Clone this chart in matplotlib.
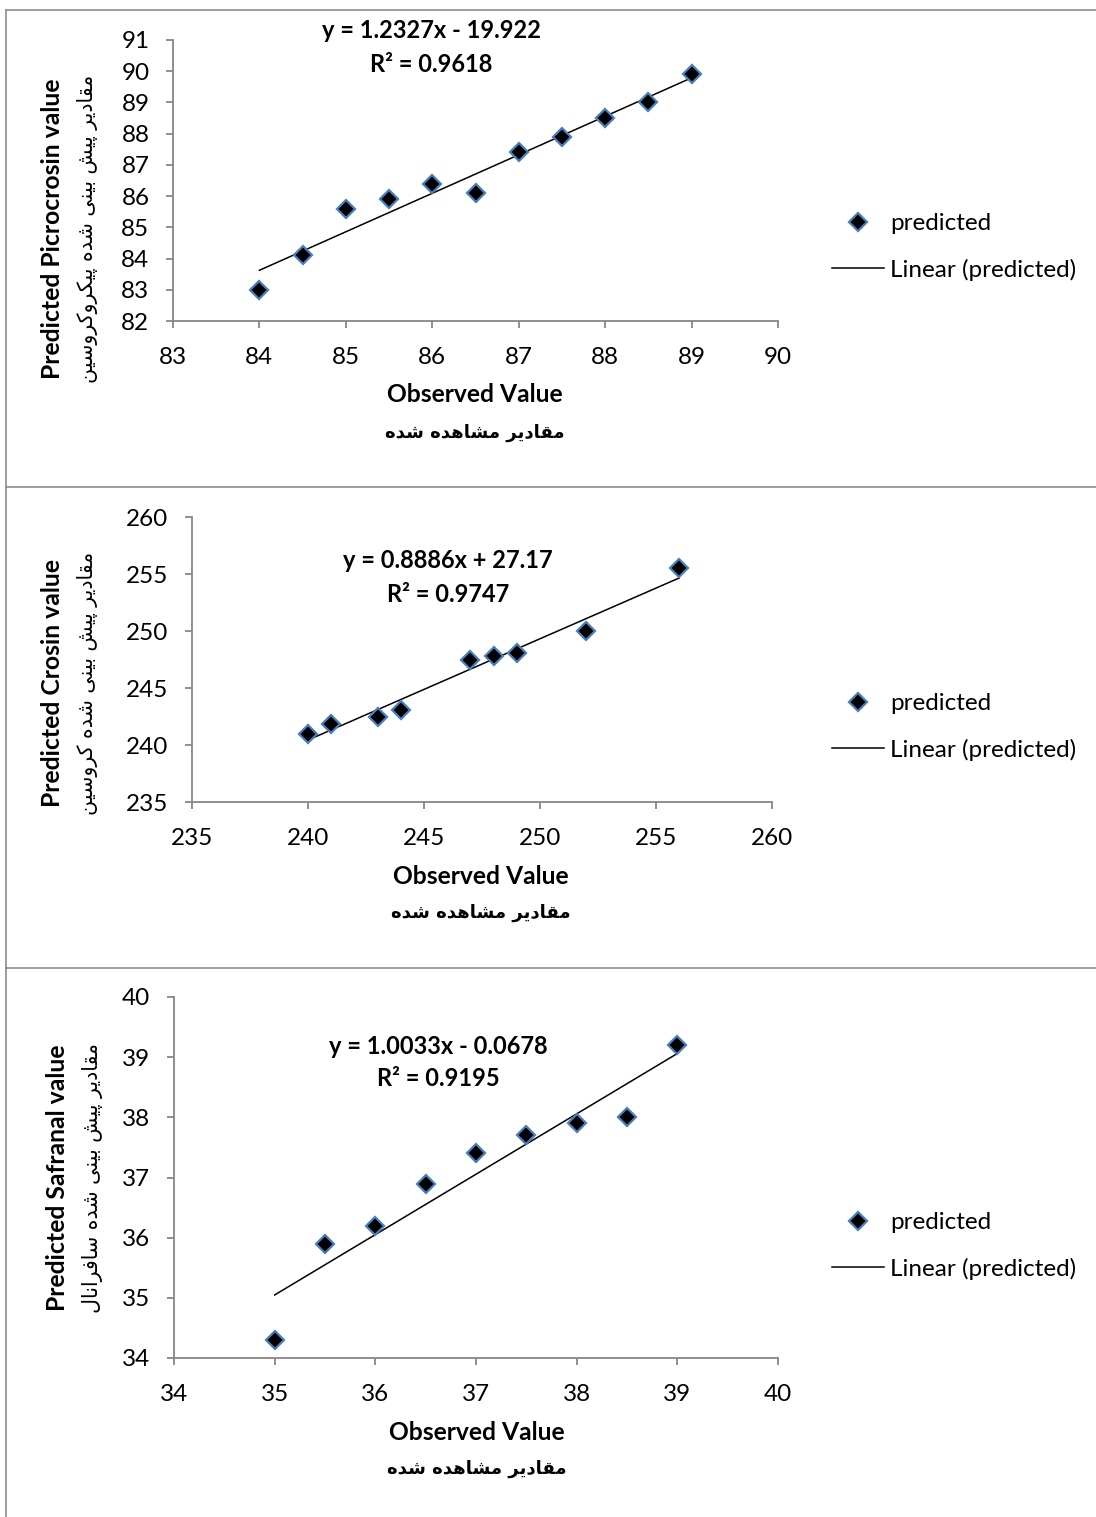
import numpy as np
import matplotlib
matplotlib.use("Agg")
import matplotlib.pyplot as plt
from matplotlib.lines import Line2D

# ---------------- data ----------------
obs_picro = [84, 84.5, 85, 85.5, 86, 86.5, 87, 87.5, 88, 88.5, 89]
pred_picro = [83.0, 84.1, 85.6, 85.9, 86.4, 86.1, 87.4, 87.9, 88.5, 89.0, 89.9]
coef_picro = [1.2327, -19.922]
r2_picro = 0.9618

obs_crosin = [240, 241, 243, 244, 247, 248, 249, 252, 256]
pred_crosin = [241.0, 241.8, 242.5, 243.1, 247.5, 247.8, 248.1, 250.0, 255.5]
coef_crosin = [0.8886, 27.17]
r2_crosin = 0.9747

obs_safr = [35, 35.5, 36, 36.5, 37, 37.5, 38, 38.5, 39]
pred_safr = [34.3, 35.9, 36.2, 36.9, 37.4, 37.7, 37.9, 38.0, 39.2]
coef_safr = [1.0033, -0.0678]
r2_safr = 0.9195

eq_picro = "y = 1.2327x - 19.922"
eq_crosin = "y = 0.8886x + 27.17"
eq_safr = "y = 1.0033x - 0.0678"

ylab_en = ["Predicted Picrocrosin value", "Predicted Crosin value", "Predicted Safranal value"]
ylab_fa = ["مقادیر پیش بینی شده پیکروکروسین",
           "مقادیر پیش بینی شده کروسین",
           "مقادیر پیش بینی شده سافرانال"]
xlab_en = "Observed Value"
xlab_fa = "مقادیر مشاهده شده"
legend_labels = ["predicted", "Linear (predicted)"]

xlims = [(83, 90), (235, 260), (34, 40)]
ylims = [(82, 91), (235, 260), (34, 40)]
xticks = [list(range(83, 91)), list(range(235, 261, 5)), list(range(34, 41))]
yticks = [list(range(82, 92)), list(range(235, 261, 5)), list(range(34, 41))]

# ---------------- Persian shaping ----------------
DUAL = {
    'ب': (0xFE8F, 0xFE90, 0xFE91, 0xFE92),
    'ت': (0xFE95, 0xFE96, 0xFE97, 0xFE98),
    'س': (0xFEB1, 0xFEB2, 0xFEB3, 0xFEB4),
    'ش': (0xFEB5, 0xFEB6, 0xFEB7, 0xFEB8),
    'ف': (0xFED1, 0xFED2, 0xFED3, 0xFED4),
    'ق': (0xFED5, 0xFED6, 0xFED7, 0xFED8),
    'ل': (0xFEDD, 0xFEDE, 0xFEDF, 0xFEE0),
    'م': (0xFEE1, 0xFEE2, 0xFEE3, 0xFEE4),
    'ن': (0xFEE5, 0xFEE6, 0xFEE7, 0xFEE8),
    'ه': (0xFEE9, 0xFEEA, 0xFEEB, 0xFEEC),
    'پ': (0xFB56, 0xFB57, 0xFB58, 0xFB59),
    'ک': (0xFB8E, 0xFB8F, 0xFB90, 0xFB91),
    'گ': (0xFB92, 0xFB93, 0xFB94, 0xFB95),
    'ی': (0xFBFC, 0xFBFD, 0xFBFE, 0xFBFF),
}
RIGHT = {
    'ا': (0xFE8D, 0xFE8E),
    'د': (0xFEA9, 0xFEAA),
    'ر': (0xFEAD, 0xFEAE),
    'و': (0xFEED, 0xFEEE),
}


def shape_fa(s):
    out = []
    n = len(s)
    for i, c in enumerate(s):
        if c not in DUAL and c not in RIGHT:
            out.append(c)
            continue
        prev = s[i - 1] if i > 0 else ''
        nxt = s[i + 1] if i < n - 1 else ''
        cp = prev in DUAL
        cn = (c in DUAL) and (nxt in DUAL or nxt in RIGHT)
        if c in DUAL:
            iso, fin, ini, med = DUAL[c]
            if cp and cn:
                g = med
            elif cp:
                g = fin
            elif cn:
                g = ini
            else:
                g = iso
        else:
            iso, fin = RIGHT[c]
            g = fin if cp else iso
        out.append(chr(g))
    return ''.join(out[::-1])


# ---------------- style ----------------
W, H = 1096, 1517
LAT = ['Lato', 'DejaVu Sans']
FA = ['DejaVu Sans']
plt.rcParams['font.family'] = LAT
GRAY = '#868686'
EDGE = '#4A7EBB'


def fx(x):
    return x / W


def fy(y):
    return 1 - y / H


fig = plt.figure(figsize=(W / 100, H / 100), dpi=100)

rects = [(173, 778, 40, 321), (192, 772, 517, 802), (174, 778, 997, 1358)]
obs_all = [obs_picro, obs_crosin, obs_safr]
pred_all = [pred_picro, pred_crosin, pred_safr]
coef_all = [coef_picro, coef_crosin, coef_safr]
r2_all = [r2_picro, r2_crosin, r2_safr]
eq_all = [eq_picro, eq_crosin, eq_safr]
eq_pos = [(431, 31, 64), (448, 561, 594), (438, 1046, 1079)]
ylab_pos = [(53, 88, 229), (53, 88, 683), (58, 93, 1178)]
xlab_pos = [(475, 395, 433), (481, 877, 913), (477, 1432, 1469)]
leg_pos = [247, 727, 1246]

TICK_FS = 17.5
MS = 9.5
for k in range(3):
    l, r, t, b = rects[k]
    ax = fig.add_axes([fx(l), fy(b), (r - l) / W, (b - t) / H])
    ax.set_xlim(*xlims[k])
    ax.set_ylim(*ylims[k])
    ax.set_xticks(xticks[k])
    ax.set_yticks(yticks[k])
    for s in ['top', 'right']:
        ax.spines[s].set_visible(False)
    for s in ['left', 'bottom']:
        ax.spines[s].set_color(GRAY)
        ax.spines[s].set_linewidth(1.3)
    ax.tick_params(axis='both', direction='out', length=5, width=1.3, color=GRAY,
                   labelsize=TICK_FS, labelcolor='black')
    ax.tick_params(axis='y', pad=12)
    ax.tick_params(axis='x', pad=13.5)
    ax.patch.set_alpha(0)

    xo = np.array(obs_all[k], dtype=float)
    yp = np.array(pred_all[k], dtype=float)
    a, c0 = coef_all[k]
    xl = np.array([xo.min(), xo.max()])
    ax.plot(xl, a * xl + c0, color='black', lw=1.1, zorder=2)
    ax.plot(xo, yp, linestyle='none', marker='D', markersize=MS,
            markerfacecolor='black', markeredgecolor=EDGE, markeredgewidth=1.6,
            zorder=3, clip_on=False)

    # equation
    ex, ey1, ey2 = eq_pos[k]
    fig.text(fx(ex), fy(ey1), eq_all[k], ha='center', va='center',
             fontsize=17, fontweight='bold', family=LAT)
    fig.text(fx(ex), fy(ey2), "R² = %.4f" % r2_all[k], ha='center', va='center',
             fontsize=17, fontweight='bold', family=LAT)

    # y labels
    ex1, ex2, ycen = ylab_pos[k]
    fig.text(fx(ex1), fy(ycen), ylab_en[k], rotation=90, ha='center', va='center',
             fontsize=17.8, fontweight='bold', family=LAT)
    fig.text(fx(ex2), fy(ycen), shape_fa(ylab_fa[k]), rotation=90, ha='center',
             va='center', fontsize=14.8, family=FA)

    # x labels
    xc, xy1, xy2 = xlab_pos[k]
    fig.text(fx(xc), fy(xy1), xlab_en, ha='center', va='center',
             fontsize=17.7, fontweight='bold', family=LAT)
    fig.text(fx(xc), fy(xy2), shape_fa(xlab_fa), ha='center', va='center',
             fontsize=13, fontweight='bold', family=FA)

    # legend
    handles = [Line2D([], [], linestyle='none', marker='D', markersize=MS,
                      markerfacecolor='black', markeredgecolor=EDGE,
                      markeredgewidth=1.6),
               Line2D([], [], color='black', lw=1.1)]
    ax.legend(handles, legend_labels, loc='center left',
              bbox_to_anchor=(fx(832), fy(leg_pos[k])),
              bbox_transform=fig.transFigure, frameon=False,
              fontsize=17.5, handlelength=2.14, handletextpad=0.25,
              labelspacing=1.0, borderpad=0, borderaxespad=0, numpoints=1)

# frame lines
bc = '#8c8c8c'
fig.add_artist(Line2D([fx(6), fx(6)], [fy(9.5), 0], color=bc, lw=1.2))
for yy in [9.5, 487, 968]:
    fig.add_artist(Line2D([fx(6), 1], [fy(yy), fy(yy)], color=bc, lw=1.2))

fig.savefig('out.png', dpi=100)
